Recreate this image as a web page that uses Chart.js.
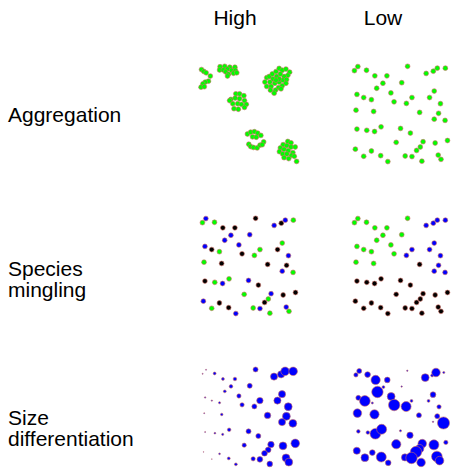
<!DOCTYPE html>
<html>
<head>
<meta charset="utf-8">
<script src="https://cdn.jsdelivr.net/npm/chart.js@4.4.0/dist/chart.umd.min.js"></script>
<style>
  html, body { margin: 0; padding: 0; background: #fff; }
  body { width: 456px; height: 471px; position: relative; overflow: hidden;
         font-family: "Liberation Sans", Arial, sans-serif; }
  canvas { position: absolute; }
  .lbl { position: absolute; font-size: 21px; line-height: 21px; color: #000; white-space: pre; }
  .col { width: 100px; text-align: center; }
</style>
</head>
<body>
<script>
// column + row headings
const columnLabels = ['High', 'Low'];
const rowLabels = ['Aggregation', 'Species\nmingling', 'Size\ndifferentiation'];

// clustered stand (aggregation, high) - x, y in plot units
const clusteredStand = [
	[10,16.5],[12.5,18.5],[15,20],[19.5,23.5],[17.5,29],[14,30],[11.5,32],[9.5,35.5],[13,35],
	[30,13.5],[35,13],[40.5,14],[46,14],[29.5,17],[33.5,17],[38,16],[42.5,17.5],[46.5,17.5],
	[36,19],[39,21.5],[44.5,20.5],[38,23.5],[48,20],
	[80.3,25.3],[78.3,30],[83,24],[86.3,21.3],[90.3,18.7],[93.7,15.3],[97,17.3],[101,16],
	[105,19.3],[103,22.7],[99,24],[95,21.3],[91,24],[87,26.7],[83.7,30],[80.3,34.7],[85,34.7],
	[89,31.3],[93.7,30],[97.7,28],[101.7,27.3],[101,31.3],[97,34],[93,36],[89.7,38.7],
	[84.3,38.7],[88.3,42],[93.7,26.7],[90.3,28],[95.7,37.3],
	[47,42.7],[51,42.7],[55.7,44.7],[41.7,48.7],[46.3,47.3],[51,48],[56.3,50],[58.3,54],
	[43.7,53.3],[49,53.3],[53,54],[45,58.7],[49.7,59.3],[56.3,57.3],[40.3,50],
	[59.5,86],[63,84],[67,83.5],[70.5,85],[74,87.5],[65,89],[69,89.5],[61,97],[63,99.5],
	[66,100.5],[70,101],[73,98],[77,94.5],[75.5,97.5],
	[103,94],[106.5,95.5],[98,97.5],[102,98.5],[106.5,100],[111,100],[95,101],[99,102.5],
	[103.5,104],[108.5,106],[94,105],[97.5,107.5],[102,107.5],[107,109],[99,111.5],
	[104,112.5],[110,110],[112.5,115.5]
];

// random stand, reused by all other panels
const randomStand = [
	[14.7,13.3],[11,17.7],[24,17.3],[33,23.3],[46,23.3],[68.3,13],[88.3,20.7],[96,18.3],
	[100.3,15],[109,15],[41.7,31.3],[62,30.7],[35,36.7],[13.7,43.3],[21,46.7],[29.3,49],
	[50.3,41.7],[53.7,51.3],[67,53],[73,46.7],[92,46.7],[97,39.7],[103.7,53.3],[12.7,60.3],
	[31.7,61.7],[81.3,62.7],[101.7,63.7],[97,70],[108.7,71.3],[13.7,80.7],[24.3,82],
	[32.7,83.3],[39.7,78.3],[60.7,80],[71.3,85],[56,95],[85,94.3],[82,100],[78,103.7],
	[98,95.7],[111.3,93],[12,102.3],[21,110],[29.3,104.3],[39.3,109.3],[47,115.7],
	[65.7,109.7],[73,110.3],[83.7,115.3],[101.3,108.7],[104.3,113.3]
];

// species per tree: g, b, k
const speciesHigh = ['b','g','g','k','k','k','b','k','b','g','b','b','b','b','k','g','b','k',
	'g','g','k','g','b','g','k','k','k','b','g','k','g','b','g','b','k','g','b','g','k','k',
	'k','b','g','k','k','b','g','b','g','b','g'];
const speciesLow = ['g','g','g','g','g','g','b','b','b','b','g','g','g','g','g','g','g','g',
	'b','b','b','b','b','g','g','k','b','b','b','k','k','k','k','k','k','k','k','k','k','k',
	'k','k','k','k','k','k','k','k','k','k','k'];

// tree diameters
const dbhHigh = [1.5,1.5,4,4,5,7,10,10,12,12,5,7,4,2,2,3,6,6,7,9,10,10,11,1.5,3.5,9,11,10,11,
	1.5,2.5,3,5,7,7,6,9,8,8,11,12,1,1,2.5,4,4,6,8,8,11,11];
const dbhLow = [7,6,8,13,8,2,11,4,12,3,4,2,16,7,15,3,11,16,14,4,4,8,6,12,13,7,7,2,17,5,5,15,
	14,3,9,13,12,12,16,14,6,10,11,8,14,8,10,16,12,15,12];

const palette = { g: '#00ff00', b: '#0000ff', k: '#000000' };
const colLeft = [188, 340];
const rowTop = [50, 201.7, 353.3];
const pad = 8, span = 133;

function addText(text, cls, left, top) {
	const d = document.createElement('div');
	d.className = 'lbl ' + cls;
	d.style.left = left + 'px';
	d.style.top = top + 'px';
	d.textContent = text;
	document.body.appendChild(d);
}

function panel(col, row, stand, colors, dbh) {
	const canvas = document.createElement('canvas');
	canvas.width = span;
	canvas.height = span;
	canvas.style.left = (colLeft[col] - pad) + 'px';
	canvas.style.top = (rowTop[row] - pad) + 'px';
	document.body.appendChild(canvas);

	const axis = { display: false, min: -pad, max: span - pad };

	new Chart(canvas, {
		type: 'scatter',
		data: {
			datasets: [{
				data: stand.map(p => ({ x: p[0], y: p[1] })),
				backgroundColor: colors,
				borderColor: 'rgba(205,110,100,0.75)',
				borderWidth: 0.8,
				pointRadius: dbh ? dbh.map(d => d / 2.8) : 2.4,
				clip: false,
			}]
		},
		options: {
			responsive: false,
			animation: false,
			layout: { padding: 0 },
			plugins: { legend: { display: false }, tooltip: { enabled: false } },
			scales: {
				x: Object.assign({ type: 'linear' }, axis),
				y: Object.assign({ type: 'linear', reverse: true }, axis),
			}
		}
	});
}

columnLabels.forEach((t, i) => addText(t, 'col', colLeft[i] + 47 - 50 + (i ? -4 : 0), 7));
addText(rowLabels[0], '', 8, 104);
addText(rowLabels[1], '', 8, 258);
addText(rowLabels[2], '', 8, 407);

panel(0, 0, clusteredStand, '#00ff00');
panel(1, 0, randomStand, '#00ff00');
panel(0, 1, randomStand, speciesHigh.map(s => palette[s]));
panel(1, 1, randomStand, speciesLow.map(s => palette[s]));
panel(0, 2, randomStand, '#0000ff', dbhHigh);
panel(1, 2, randomStand, '#0000ff', dbhLow);
</script>
</body>
</html>
